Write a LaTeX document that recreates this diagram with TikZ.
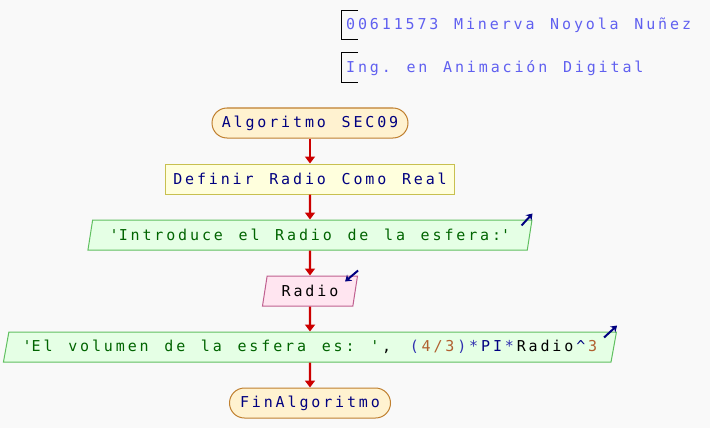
\documentclass[tikz,border=0pt]{standalone}
\usepackage{fontspec}
\newfontfamily\psfont{DejaVu Sans Mono}[LetterSpace=19.1, WordSpace=1.318]
\usetikzlibrary{arrows.meta,shapes.geometric,positioning}
\definecolor{fondo}{RGB}{249,249,249}
\definecolor{flecha}{RGB}{204,0,0}
\definecolor{azulpse}{RGB}{0,0,128}
\definecolor{azulop}{RGB}{48,48,176}
\definecolor{verdetxt}{RGB}{0,100,0}
\definecolor{cafenum}{RGB}{176,96,48}
\definecolor{encab}{RGB}{96,96,240}
\tikzstyle{flujo} =[-{Triangle[width=10pt,length=7pt]}, draw=flecha,
                    line width=2.2pt]
\tikzstyle{icono} =[-{Stealth[width=8pt,length=6pt]}, draw=azulpse,
                    line width=2pt]
\newcommand{\hueco}{\kern0.191em}
\frenchspacing

\begin{document}
\begin{tikzpicture}[x=1pt, y=-1pt, node distance=25pt,
        every node/.style={font=\psfont\fontsize{15pt}{17pt}\selectfont,
        inner sep=0pt, minimum height=30pt},
        terminal/.style={draw={rgb,255:red,192;green,128;blue,48},
        fill={rgb,255:red,255;green,242;blue,208}, rounded corners=15pt,
        line width=1pt, text=azulpse},
        definir/.style={draw={rgb,255:red,200;green,192;blue,80},
        fill={rgb,255:red,255;green,255;blue,221}, line width=1pt,
        text=azulpse},
        salida/.style={trapezium, trapezium left angle=68.2,
        trapezium right angle=111.8, trapezium stretches body,
        draw={rgb,255:red,96;green,192;blue,96},
        fill={rgb,255:red,229;green,255;blue,229}, line width=1pt,
        text=verdetxt},
        entrada/.style={salida, draw={rgb,255:red,192;green,96;blue,144},
        fill={rgb,255:red,255;green,229;blue,240}, text=black},
        encabezado/.style={anchor=west, text=encab, minimum height=0pt}]
    \useasboundingbox[fill=fondo] (0,0) rectangle (710,428);
    % encabezado
    \node[encabezado] (clave) at (346,25) {00611573 Minerva Noyola Nuñez};
    \node[encabezado] (carrera) at (346,68) {Ing. en Animación Digital};
    \draw[line width=1pt] (358,11) -| (341,40) -- (358,40);
    \draw[line width=1pt] (358,53) -| (341,83) -- (358,83);
    % diagrama
    \node[terminal, minimum width=196pt] (inicio) at (310,123)
        {Algoritmo SEC09};
    \node[definir, minimum width=289pt, below=of inicio] (defradio)
        {Definir Radio Como Real};
    \node[salida, minimum width=444pt, below=of defradio] (mensaje)
        {\textquotesingle Introduce el Radio de la esfera:\textquotesingle};
    \node[entrada, minimum width=95pt, below=of mensaje] (leer) {Radio};
    \node[salida, minimum width=613pt, below=of leer] (volumen)
        {\textquotesingle El volumen de la esfera es: \textquotesingle\hueco
        {\color{black},\hueco{} }{\color{azulop}(}\hueco{\color{cafenum}4/3}\hueco
        {\color{azulop})*}\hueco{\color{azulpse}PI}\hueco{\color{azulop}*}\hueco
        {\color{black}Radio}\hueco{\color{azulpse}\textasciicircum}\hueco
        {\color{cafenum}3}};
    \node[terminal, minimum width=161pt, below=of volumen] (fin) {FinAlgoritmo};
    \draw[flujo] (inicio) -- (defradio);
    \draw[flujo] (defradio) -- (mensaje);
    \draw[flujo] (mensaje) -- (leer);
    \draw[flujo] (leer) -- (volumen);
    \draw[flujo] (volumen) -- (fin);
    % iconos de entrada/salida
    \draw[icono] ([shift={(-11,6)}]mensaje.top right corner)
        -- ([shift={(0,-6)}]mensaje.top right corner);
    \draw[icono] ([shift={(0,-5)}]leer.top right corner)
        -- ([shift={(-13,6)}]leer.top right corner);
    \draw[icono] ([shift={(-13,6)}]volumen.top right corner)
        -- ([shift={(0,-6)}]volumen.top right corner);
\end{tikzpicture}
\end{document}
